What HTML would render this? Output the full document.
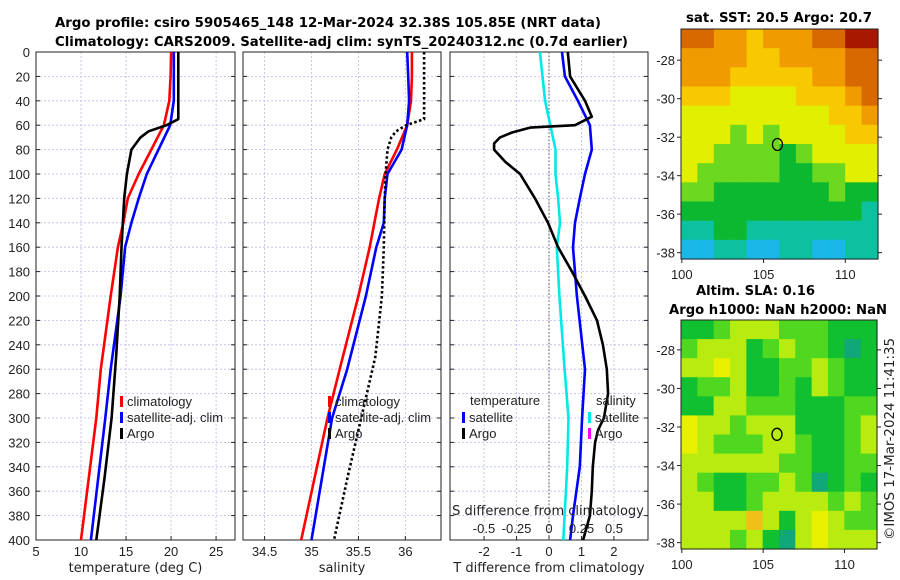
<!DOCTYPE html>
<html><head><meta charset="utf-8">
<style>
body{margin:0;background:#fff;}
svg{display:block;font-family:"Liberation Sans","DejaVu Sans",sans-serif;}
.dj{font-family:"DejaVu Sans","Liberation Sans",sans-serif;}
</style></head>
<body>
<svg id="c" width="900" height="580" viewBox="0 0 900 580">
<text class="dj" x="55" y="27" textLength="546" lengthAdjust="spacingAndGlyphs" font-size="13" font-weight="bold">Argo profile: csiro 5905465_148 12-Mar-2024 32.38S 105.85E (NRT data)</text>
<text class="dj" x="55" y="46" textLength="573" lengthAdjust="spacingAndGlyphs" font-size="13" font-weight="bold">Climatology: CARS2009. Satellite-adj clim: synTS_20240312.nc (0.7d earlier)</text>
<text class="dj" x="686" y="22" textLength="186" lengthAdjust="spacingAndGlyphs" font-size="13" font-weight="bold">sat. SST: 20.5 Argo: 20.7</text>
<text class="dj" x="696" y="295" textLength="119" lengthAdjust="spacingAndGlyphs" font-size="13" font-weight="bold">Altim. SLA: 0.16</text>
<text class="dj" x="669" y="314" textLength="218" lengthAdjust="spacingAndGlyphs" font-size="13" font-weight="bold">Argo h1000: NaN h2000: NaN</text>
<text class="dj" transform="translate(894,540) rotate(-90)" font-size="13" fill="#222" textLength="202" lengthAdjust="spacingAndGlyphs">©IMOS 17-Mar-2024 11:41:35</text>
</svg>
<script>
// ---- profile data ----
const depthClim = [0,20,40,60,80,100,120,140,160,200,260,300,400];
const tempClim  = [20.0,19.95,19.8,19.2,17.8,16.4,15.2,14.7,14.1,13.3,12.2,11.7,10.0];
const tempSat   = [20.3,20.3,20.3,19.9,18.6,17.3,16.4,15.6,14.9,14.4,13.3,12.7,11.1];
const depthArgo = [0,20,40,55,60,65,70,80,100,120,160,200,250,300,350,400];
const tempArgo  = [20.8,20.8,20.8,20.8,19.5,17.5,16.6,15.6,15.1,14.8,14.5,14.3,13.9,13.4,12.6,11.7];
const salClim   = [36.07,36.07,36.06,36.02,35.91,35.78,35.72,35.67,35.62,35.5,35.3,35.17,34.89];
const salSat    = [36.02,36.03,36.04,36.02,35.96,35.81,35.78,35.77,35.69,35.58,35.38,35.22,35.0];
const salArgo   = [36.2,36.2,36.2,36.2,36.01,35.9,35.85,35.81,35.79,35.78,35.77,35.75,35.68,35.53,35.38,35.24];
const depthDiff = [0,20,40,53,60,62,66,70,75,80,90,100,120,140,160,180,200,220,240,260,280,300,310,320,340,360,380,400];
const dTArgo    = [0.58,0.65,1.11,1.32,0.8,-0.58,-1.14,-1.51,-1.69,-1.69,-1.35,-0.89,-0.43,-0.03,0.28,0.71,1.11,1.48,1.66,1.78,1.82,1.69,1.51,1.42,1.35,1.32,1.26,1.05];
const depthDS   = [0,20,40,60,80,100,120,140,160,200,260,300,340,380,400];
const dTSat     = [0.4,0.49,0.89,1.26,1.32,1.11,0.95,0.8,0.74,0.86,1.11,1.02,0.95,0.74,0.65];
const dSSat     = [-0.07,-0.05,-0.03,0.01,0.05,0.05,0.07,0.085,0.06,0.08,0.12,0.15,0.14,0.12,0.11];
const yTicks = [0,20,40,60,80,100,120,140,160,180,200,220,240,260,280,300,320,340,360,380,400];
const tTicks = [5,10,15,20,25];
const sTicks = [34.5,35,35.5,36];
const dTTicks = [-2,-1,0,1,2];
const dSTicks = [-0.5,-0.25,0,0.25,0.5];
const dSLabels = ["-0.5","-0.25","0","0.25","0.5"];
// ---- map data (coarse grids, rows north->south) ----
const sstGrid = [
[8,8,7,7,6,7,7,7,8,8,9,9],[7,7,7,7,6,6,7,7,7,7,8,8],[7,7,7,6,6,6,6,6,7,7,8,8],
[6,6,6,5,5,5,5,6,6,6,7,8],[5,5,5,5,5,5,5,5,5,6,6,7],[5,5,5,4,5,4,5,5,5,5,6,6],
[5,5,4,4,4,4,3,4,5,5,5,5],[5,4,4,4,4,4,3,3,4,4,5,5],[4,4,3,3,3,3,3,3,3,4,3,3],
[3,3,3,3,3,3,3,3,3,3,3,2],[2,2,3,3,2,2,2,2,2,2,2,2],[1,1,2,2,1,1,2,2,1,1,2,2]];
const slaGrid = [
[1,1,2,3,3,3,2,2,2,1,1,1],[2,3,3,3,1,2,3,2,2,1,0,1],[3,3,4,3,1,1,2,2,3,2,1,1],
[1,2,2,3,1,1,2,1,3,2,1,1],[1,1,3,3,2,2,2,1,1,1,2,2],[4,3,3,2,3,3,3,1,1,1,2,3],
[4,3,2,2,2,3,3,2,1,1,2,3],[3,3,3,3,3,3,2,2,1,1,2,2],[3,2,1,1,2,2,3,2,0,1,2,1],
[3,3,1,1,2,3,3,3,3,2,3,2],[3,3,3,3,5,3,1,3,4,3,2,2],[3,3,3,2,3,1,0,3,4,3,3,3]];
const sstColors = ["#0a50d8","#19b8e8","#0cc0a0","#0cb830","#6cd820","#e0f000","#f8c800","#f09c00","#d86800","#a81800"];
const slaColors = ["#10a878","#10c030","#50d820","#b8ec10","#e8f000","#f0c018"];
const lonTicks = [100,105,110];
const latTicks = [-28,-30,-32,-34,-36,-38];
const argoLon = 105.85, argoLat = -32.38;

const svg = document.getElementById('c');
const NS = 'http://www.w3.org/2000/svg';
function mk(tag, attrs, parent){ const e=document.createElementNS(NS,tag); for(const k in attrs) e.setAttribute(k,attrs[k]); (parent||svg).appendChild(e); return e; }
function txt(x,y,s,attrs){ const e=mk('text',Object.assign({x:x,y:y,'font-size':13,fill:'#222'},attrs||{})); e.textContent=s; return e; }

const Y0=52, Y1=540;
const yS = d => Y0 + d/400*(Y1-Y0);
const panels = [
 {x0:36,x1:235,min:5,max:27.1,ticks:tTicks,label:'temperature (deg C)'},
 {x0:243,x1:441,min:34.27,max:36.38,ticks:sTicks,label:'salinity'},
 {x0:450,x1:648,min:-3.05,max:3.05,ticks:dTTicks,label:'T difference from climatology'}];
panels.forEach((p,i)=>{ p.sx = v => p.x0 + (v-p.min)/(p.max-p.min)*(p.x1-p.x0); });
const dSx = v => 549 + v*130;

panels.forEach((p,i)=>{
  const g = mk('g',{});
  
  
  yTicks.forEach(d=>{ mk('line',{x1:p.x0,x2:p.x1,y1:yS(d),y2:yS(d),stroke:'#b8bce8','stroke-width':0.8,'stroke-dasharray':'2,2'},g); });
  p.ticks.forEach(v=>{ mk('line',{x1:p.sx(v),x2:p.sx(v),y1:Y0,y2:Y1,stroke:'#b8bce8','stroke-width':0.8,'stroke-dasharray':'2,2'},g);
    mk('line',{x1:p.sx(v),x2:p.sx(v),y1:Y1,y2:Y1-4,stroke:'#222'},g);
    const t=txt(p.sx(v),556,String(v),{'text-anchor':'middle'}); g.appendChild(t);
      });
  yTicks.forEach(d=>{ mk('line',{x1:p.x0,x2:p.x0+4,y1:yS(d),y2:yS(d),stroke:'#222'},g); mk('line',{x1:p.x1,x2:p.x1-4,y1:yS(d),y2:yS(d),stroke:'#222'},g); });
  mk('rect',{x:p.x0,y:Y0,width:p.x1-p.x0,height:Y1-Y0,fill:'none',stroke:'#222','stroke-width':1},g);
  const xl=txt((p.x0+p.x1)/2,572,p.label,{'text-anchor':'middle','class':'dj'}); g.appendChild(xl);
   
});
yTicks.forEach(d=>{ const t=txt(30,yS(d)+5,String(d),{'text-anchor':'end'});
    });

function line(xs, ds, sx, color, name, extra){
  const pts = xs.map((v,i)=> sx(v).toFixed(1)+','+yS(ds[i]).toFixed(1)).join(' ');
  const e = mk('polyline',Object.assign({points:pts,fill:'none',stroke:color,'stroke-width':2.6,'stroke-linejoin':'round'},extra||{}));
   
  return e;
}
const P1=panels[0], P2=panels[1], P3=panels[2];
line(tempClim, depthClim, P1.sx, '#ff0000','temp-climatology-line');
line(tempSat, depthClim, P1.sx, '#0000ff','temp-satellite-line');
line(tempArgo, depthArgo, P1.sx, '#000','temp-argo-line');
line(salClim, depthClim, P2.sx, '#ff0000','sal-climatology-line');
line(salSat, depthClim, P2.sx, '#0000ff','sal-satellite-line');
line(salArgo, depthArgo, P2.sx, '#000','sal-argo-line',{'stroke-dasharray':'2.5,2.5'});
mk('line',{x1:P3.sx(0),x2:P3.sx(0),y1:Y0,y2:Y1,stroke:'#555','stroke-width':1,'stroke-dasharray':'1.5,2'});
line(dSSat, depthDS, dSx, '#00e8e8','sal-diff-satellite-line');
line(dTSat, depthDS, P3.sx, '#0000ff','temp-diff-satellite-line');
line(dTArgo, depthDiff, P3.sx, '#000','temp-diff-argo-line');

// S axis labels inside panel 3
const sl=txt(548,515,'S difference from climatology',{'text-anchor':'middle','class':'dj'});
 
dSTicks.forEach((v,i)=>{ const t=txt(dSx(v),533,dSLabels[i],{'text-anchor':'middle'});
    });

// legends
function legItem(x,y,color,label,name){
  const g=mk('g',{});
   
  mk('rect',{x:x,y:y-10,width:3,height:11,fill:color},g);
  const t=txt(x+7,y,label,{}); g.appendChild(t);
}
[[120,0],[328,1]].forEach(([lx,k])=>{
  legItem(lx,406,'#ff0000','climatology','legend-climatology');
  legItem(lx,422,'#0000ff','satellite-adj. clim','legend-satellite-adj');
  legItem(lx,438,'#000','Argo','legend-argo');
});
const lt=txt(470,405,'temperature',{});  
legItem(462,422,'#0000ff','satellite','legend-temp-satellite');
legItem(462,438,'#000','Argo','legend-temp-argo');
const ls=txt(596,405,'salinity',{});  
legItem(588,422,'#00e8e8','satellite','legend-sal-satellite');
legItem(588,438,'#ff00ff','Argo','legend-sal-argo');

// maps
function drawMap(grid, colors, mx0,mx1,my0,my1, latTop, latBot, name){
  const g=mk('g',{});
   
  const lonMin=99.95, lonMax=112.0;
  const lx = v => mx0 + (v-lonMin)/(lonMax-lonMin)*(mx1-mx0);
  const ly = v => my0 + (latTop-v)/(latTop-latBot)*(my1-my0);
  const rows=grid.length, cols=grid[0].length;
  const cw=(mx1-mx0)/cols, ch=(my1-my0)/rows;
  grid.forEach((row,r)=>row.forEach((v,c)=>{
    const cell=mk('rect',{x:(mx0+c*cw).toFixed(2),y:(my0+r*ch).toFixed(2),width:(cw+0.6).toFixed(2),height:(ch+0.6).toFixed(2),fill:colors[v]},g);
     
  }));
  mk('rect',{x:mx0,y:my0,width:mx1-mx0,height:my1-my0,fill:'none',stroke:'#222'},g);
  lonTicks.forEach(v=>{ mk('line',{x1:lx(v),x2:lx(v),y1:my1,y2:my1+4,stroke:'#222'},g);
    const t=txt(lx(v),my1+20,String(v),{'text-anchor':'middle'}); g.appendChild(t); });
  latTicks.forEach(v=>{ mk('line',{x1:mx0-4,x2:mx0,y1:ly(v),y2:ly(v),stroke:'#222'},g);
    mk('line',{x1:mx1,x2:mx1+4,y1:ly(v),y2:ly(v),stroke:'#222'},g);
    const t=txt(mx0-6,ly(v)+5,String(v),{'text-anchor':'end'}); g.appendChild(t); });
  const m=mk('ellipse',{cx:lx(argoLon),cy:ly(argoLat),rx:5,ry:6,fill:'none',stroke:'#000','stroke-width':1.3},g);
   
}
drawMap(sstGrid, sstColors, 681,878,29,259, -26.38, -38.33, 'sst-map');
drawMap(slaGrid, slaColors, 681,877,320,549, -26.45, -38.33, 'sla-map');
</script>
</body></html>
